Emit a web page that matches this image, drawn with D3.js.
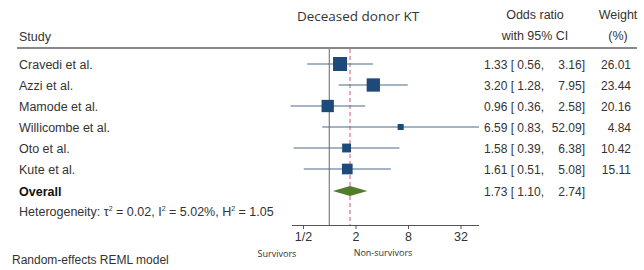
<!DOCTYPE html>
<html>
<head>
<meta charset="utf-8">
<script src="https://cdn.jsdelivr.net/npm/d3@7"></script>
<style>
  body { margin: 0; background: #fff; }
  text { font-family: "Liberation Sans", Arial, sans-serif; fill: #333; }
</style>
</head>
<body>
<div id="chart"></div>
<script>
// Study data
const studies = ["Cravedi et al.", "Azzi et al.", "Mamode et al.", "Willicombe et al.", "Oto et al.", "Kute et al."];
const oddsRatio = [1.33, 3.20, 0.96, 6.59, 1.58, 1.61];
const lowerCI = [0.56, 1.28, 0.36, 0.83, 0.39, 0.51];
const upperCI = [3.16, 7.95, 2.58, 52.09, 6.38, 5.08];
const weights = [26.01, 23.44, 20.16, 4.84, 10.42, 15.11];

// Overall estimate
const overall = { or: 1.73, lo: 1.10, hi: 2.74 };
const tickValues = [0.5, 2, 8, 32];
const tickLabels = ["1/2", "2", "8", "32"];

const width = 644, height = 270;
const svg = d3.select("#chart").append("svg")
  .attr("width", width)
  .attr("height", height);

// log2 scale for the odds ratio
const x = d3.scaleLog().base(2)
  .domain([0.5, 32])
  .range([303, 460.5]);

const rowY = d3.scalePoint()
  .domain(studies)
  .range([64, 169]);
const overallY = 191;
const axisY = 225;

const side = d3.scaleSqrt().domain([0, 26.01]).range([0, 14]);

const navy = "#1d4a78";
const green = "#4f7d2a";

// header
svg.append("text").attr("x", 19).attr("y", 41).attr("font-size", 12.5).text("Study");
svg.append("text").attr("x", 358).attr("y", 21).attr("font-size", 13.5)
  .attr("text-anchor", "middle").style("font-family", "'Open Sans', sans-serif")
  .text("Deceased donor KT");
svg.append("text").attr("x", 535).attr("y", 19).attr("font-size", 12.5)
  .attr("text-anchor", "middle").text("Odds ratio");
svg.append("text").attr("x", 535).attr("y", 40).attr("font-size", 12.5)
  .attr("text-anchor", "middle").text("with 95% CI");
svg.append("text").attr("x", 618).attr("y", 19).attr("font-size", 12.5)
  .attr("text-anchor", "middle").text("Weight");
svg.append("text").attr("x", 618).attr("y", 40).attr("font-size", 12.5)
  .attr("text-anchor", "middle").text("(%)");
svg.append("line")
  .attr("x1", 17).attr("x2", 637).attr("y1", 48).attr("y2", 48)
  .attr("stroke", "#888").attr("stroke-width", 2);

// no-effect line and overall line
svg.append("line")
  .attr("x1", x(1)).attr("x2", x(1)).attr("y1", 49).attr("y2", axisY)
  .attr("stroke", "#666").attr("stroke-width", 1);
svg.append("line")
  .attr("x1", x(overall.or)).attr("x2", x(overall.or)).attr("y1", 49).attr("y2", axisY)
  .attr("stroke", "#e2708e").attr("stroke-width", 1.2)
  .attr("stroke-dasharray", "4,3");

// study rows
const rows = svg.append("g").selectAll("g")
  .data(studies)
  .enter().append("g");

rows.append("text")
  .attr("x", 19).attr("y", d => rowY(d) + 4.5)
  .attr("font-size", 12.5)
  .text(d => d);

rows.append("line")
  .attr("x1", (d, i) => x(lowerCI[i]))
  .attr("x2", (d, i) => x(upperCI[i]))
  .attr("y1", d => rowY(d)).attr("y2", d => rowY(d))
  .attr("stroke", "#4a6a8a").attr("stroke-width", 1.2);

rows.append("rect")
  .attr("x", (d, i) => x(oddsRatio[i]) - side(weights[i]) / 2)
  .attr("y", (d, i) => rowY(d) - side(weights[i]) / 2)
  .attr("width", (d, i) => side(weights[i]))
  .attr("height", (d, i) => side(weights[i]))
  .attr("fill", navy);

rows.append("text")
  .attr("x", 484).attr("y", d => rowY(d) + 4.5)
  .attr("font-size", 12)
  .text((d, i) => `${oddsRatio[i].toFixed(2)} [ ${lowerCI[i].toFixed(2)},`);
rows.append("text")
  .attr("x", 585).attr("y", d => rowY(d) + 4.5)
  .attr("font-size", 12).attr("text-anchor", "end")
  .text((d, i) => `${upperCI[i].toFixed(2)}]`);
rows.append("text")
  .attr("x", 631).attr("y", d => rowY(d) + 4.5)
  .attr("font-size", 12).attr("text-anchor", "end")
  .text((d, i) => weights[i].toFixed(2));

// overall
svg.append("text").attr("x", 19).attr("y", overallY + 4.5)
  .attr("font-size", 12.5).attr("font-weight", "bold").style("fill", "#111")
  .text("Overall");
svg.append("path")
  .attr("d", `M${x(overall.lo)},${overallY} L${x(overall.or)},${overallY - 5} L${x(overall.hi)},${overallY} L${x(overall.or)},${overallY + 5} Z`)
  .attr("fill", green);
svg.append("text").attr("x", 484).attr("y", overallY + 4.5).attr("font-size", 12)
  .text(`${overall.or.toFixed(2)} [ ${overall.lo.toFixed(2)},`);
svg.append("text").attr("x", 585).attr("y", overallY + 4.5).attr("font-size", 12)
  .attr("text-anchor", "end").text(`${overall.hi.toFixed(2)}]`);

// heterogeneity
const het = svg.append("text").attr("x", 19).attr("y", 216).attr("font-size", 12.5);
het.append("tspan").text("Heterogeneity: τ");
het.append("tspan").attr("dy", -5).attr("font-size", 7).text("2");
het.append("tspan").attr("dy", 5).text(" = 0.02, I");
het.append("tspan").attr("dy", -5).attr("font-size", 7).text("2");
het.append("tspan").attr("dy", 5).text(" = 5.02%, H");
het.append("tspan").attr("dy", -5).attr("font-size", 7).text("2");
het.append("tspan").attr("dy", 5).text(" = 1.05");

// axis
const axis = svg.append("g")
  .attr("transform", `translate(0,${axisY})`)
  .call(d3.axisBottom(x).tickValues(tickValues).tickFormat((d, i) => tickLabels[i]).tickSizeOuter(0).tickSize(4));
axis.select(".domain").attr("d", `M292,0.5H479`).attr("stroke", "#555");
axis.selectAll(".tick line").attr("stroke", "#555");
axis.selectAll(".tick text")
  .attr("font-size", 12.5).attr("dy", "0.71em")
  .attr("font-family", "Liberation Sans, Arial, sans-serif").attr("fill", "#333");

svg.append("text").attr("x", 277).attr("y", 257).attr("font-size", 9)
  .attr("text-anchor", "middle").style("font-family", "'Open Sans', sans-serif")
  .text("Survivors");
svg.append("text").attr("x", 383).attr("y", 256).attr("font-size", 9)
  .attr("text-anchor", "middle").style("font-family", "'Open Sans', sans-serif")
  .text("Non-survivors");

svg.append("text").attr("x", 12).attr("y", 264).attr("font-size", 12)
  .text("Random-effects REML model");
</script>
</body>
</html>
